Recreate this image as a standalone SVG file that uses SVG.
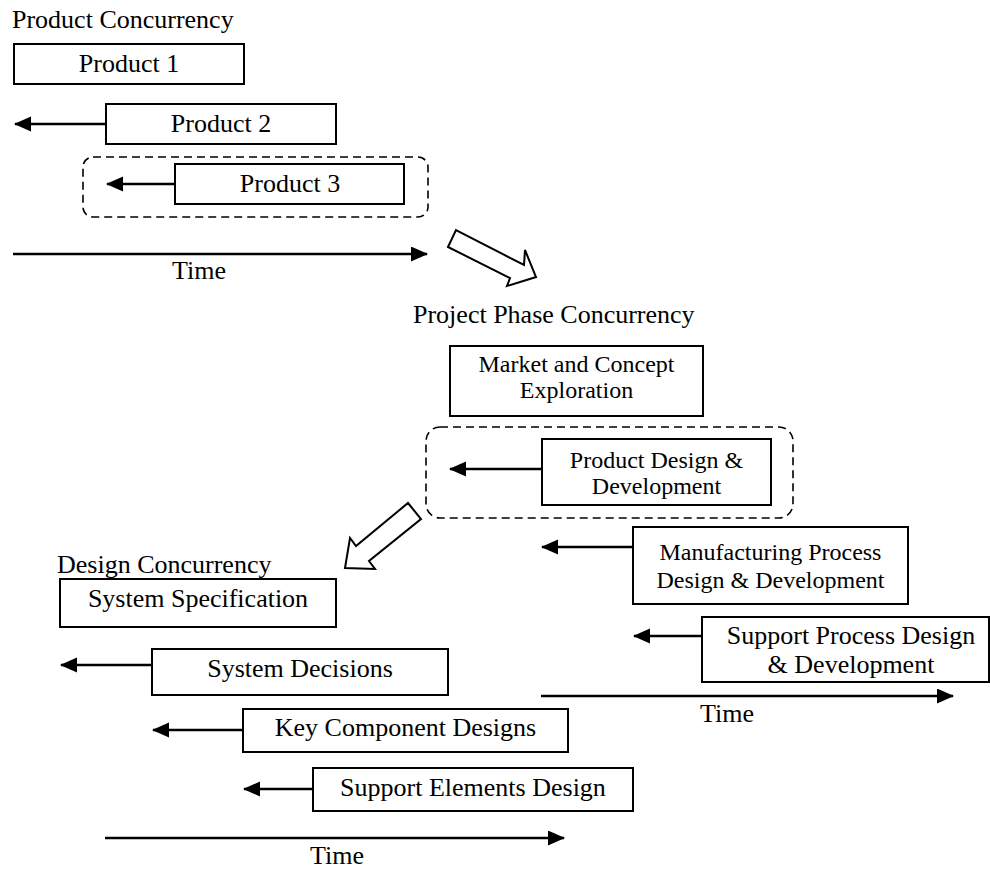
<svg xmlns="http://www.w3.org/2000/svg" width="990" height="869" viewBox="0 0 990 869">
  <defs>
    <marker id="head" markerUnits="userSpaceOnUse" markerWidth="17" markerHeight="16" refX="16" refY="7.5" orient="auto">
      <path d="M0,0 L17,7.5 L0,15 z" fill="#000"/>
    </marker>
    <style>
      text { font-family: "Liberation Serif", "Times New Roman", serif; fill: #000; }
      .t26 { font-size: 26px; }
      .t24 { font-size: 24px; }
      .mid { text-anchor: middle; }
      .box { fill: #fff; stroke: #000; stroke-width: 2; }
      .group { fill: none; stroke: #000; stroke-width: 1.6; stroke-dasharray: 8 5; }
      .arrow { fill: none; stroke: #000; stroke-width: 2.5; marker-end: url(#head); }
      .big { fill: #fff; stroke: #000; stroke-width: 2; stroke-linejoin: miter; }
    </style>
  </defs>
  <rect width="990" height="869" fill="#fff"/>

  <!-- section titles -->
  <text class="t26" x="12" y="28">Product Concurrency</text>
  <text class="t26" x="413" y="323">Project Phase Concurrency</text>
  <text class="t26" x="57" y="573">Design Concurrency</text>

  <!-- dashed groupings -->
  <rect id="group-product3" class="group" x="83" y="157" width="345" height="60" rx="10"/>
  <rect id="group-design" class="group" x="426" y="427" width="367" height="91" rx="14"/>

  <!-- connectors: pull-back arrows, time axes and transition arrows -->
  <g id="connectors">
    <line class="arrow" x1="106" y1="124" x2="15" y2="124"/>
    <line class="arrow" x1="175" y1="184" x2="107" y2="184"/>
    <line class="arrow" x1="13" y1="254" x2="427" y2="254"/>

    <line class="arrow" x1="542" y1="469" x2="450" y2="469"/>
    <line class="arrow" x1="633" y1="547" x2="542" y2="547"/>
    <line class="arrow" x1="702" y1="636" x2="634" y2="636"/>
    <line class="arrow" x1="541" y1="696" x2="953" y2="696"/>

    <line class="arrow" x1="152" y1="665" x2="61" y2="665"/>
    <line class="arrow" x1="243" y1="730" x2="153" y2="730"/>
    <line class="arrow" x1="313" y1="789" x2="244" y2="789"/>
    <line class="arrow" x1="105" y1="838" x2="564" y2="838"/>

    <polygon class="big" points="448,247 456,230 524,265 525,250 536,277 507,286 510,278"/>
    <polygon class="big" points="408,503 421,519 369,561 375,569 345,568 350,538 356,546"/>
  </g>

  <text class="t26 mid" x="199" y="279">Time</text>
  <text class="t26 mid" x="727" y="722">Time</text>
  <text class="t26 mid" x="337" y="864">Time</text>

  <!-- product level -->
  <g id="product-1">
    <rect class="box" x="14" y="44" width="230" height="40"/>
    <text class="t26 mid" x="129" y="72">Product 1</text>
  </g>
  <g id="product-2">
    <rect class="box" x="106" y="104" width="230" height="40"/>
    <text class="t26 mid" x="221" y="132">Product 2</text>
  </g>
  <g id="product-3">
    <rect class="box" x="175" y="164" width="229" height="40"/>
    <text class="t26 mid" x="290" y="192">Product 3</text>
  </g>

  <!-- project phase level -->
  <g id="market-concept">
    <rect class="box" x="450" y="346" width="253" height="70"/>
    <text class="t24 mid" x="576.5" y="372">Market and Concept</text>
    <text class="t24 mid" x="576.5" y="398">Exploration</text>
  </g>
  <g id="product-design">
    <rect class="box" x="542" y="439" width="229" height="66"/>
    <text class="t24 mid" x="656.5" y="468">Product Design &amp;</text>
    <text class="t24 mid" x="656.5" y="494">Development</text>
  </g>
  <g id="manufacturing-process">
    <rect class="box" x="633" y="527" width="275" height="77"/>
    <text class="t24 mid" x="770.5" y="560">Manufacturing Process</text>
    <text class="t24 mid" x="770.5" y="588">Design &amp; Development</text>
  </g>
  <g id="support-process">
    <rect class="box" x="702" y="617" width="287" height="65"/>
    <text class="t26 mid" x="851" y="644">Support Process Design</text>
    <text class="t26 mid" x="851" y="673">&amp; Development</text>
  </g>

  <!-- design level -->
  <g id="system-specification">
    <rect class="box" x="60" y="579" width="276" height="48"/>
    <text class="t26 mid" x="198" y="607">System Specification</text>
  </g>
  <g id="system-decisions">
    <rect class="box" x="152" y="649" width="296" height="46"/>
    <text class="t26 mid" x="300" y="677">System Decisions</text>
  </g>
  <g id="key-component-designs">
    <rect class="box" x="243" y="709" width="325" height="43"/>
    <text class="t26 mid" x="405.5" y="736">Key Component Designs</text>
  </g>
  <g id="support-elements-design">
    <rect class="box" x="313" y="768" width="320" height="43"/>
    <text class="t26 mid" x="473" y="796">Support Elements Design</text>
  </g>
</svg>
